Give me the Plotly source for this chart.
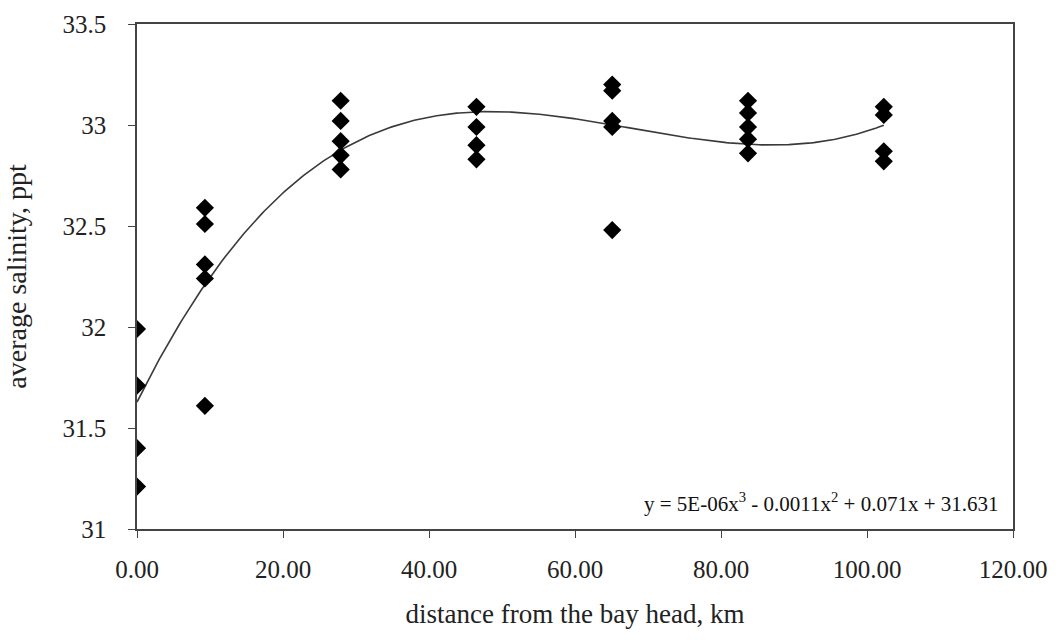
import numpy as np
import plotly.graph_objects as go

# distance from the bay head (km) for each sampling station group
station_km = [0.0, 9.3, 27.9, 46.5, 65.1, 83.7, 102.3]
# average salinity (ppt) observed at each station group
salinity_by_station = [
    [31.99, 31.71, 31.40, 31.21],
    [32.59, 32.51, 32.31, 32.24, 31.61],
    [33.12, 33.02, 32.92, 32.85, 32.78],
    [33.09, 32.99, 32.90, 32.83],
    [33.20, 33.17, 33.02, 32.99, 32.48],
    [33.12, 33.06, 32.99, 32.93, 32.86],
    [33.09, 33.05, 32.87, 32.82],
]
x_ticks = [0, 20, 40, 60, 80, 100, 120]
y_ticks = [31, 31.5, 32, 32.5, 33, 33.5]
equation_text = "y = 5E-06x<sup>3</sup> - 0.0011x<sup>2</sup> + 0.071x + 31.631"

xs, ys = [], []
for km, vals in zip(station_km, salinity_by_station):
    for v in vals:
        xs.append(km)
        ys.append(v)
xs = np.array(xs)
ys = np.array(ys)

# third-order polynomial trendline fitted to the observations
coef = np.polyfit(xs, ys, 3)
xfit = np.linspace(min(station_km), max(station_km), 300)
yfit = np.polyval(coef, xfit)

serif = "'Liberation Serif', 'Times New Roman', Times, serif"

fig = go.Figure()
fig.add_trace(go.Scatter(
    x=xfit, y=yfit, mode="lines",
    line=dict(color="#3a3a3a", width=1.6),
    hoverinfo="skip", showlegend=False,
))
fig.add_trace(go.Scatter(
    x=xs, y=ys, mode="markers",
    marker=dict(symbol="diamond", size=14, color="black"),
    showlegend=False,
))

fig.add_annotation(
    x=1.0, y=0.0, xref="paper", yref="paper",
    xanchor="right", yanchor="bottom", xshift=-12, yshift=11,
    text=equation_text, showarrow=False,
    font=dict(family=serif, size=21, color="#111"),
)

axis_common = dict(
    showgrid=False, zeroline=False, showline=True, mirror=True,
    linecolor="#444", linewidth=1.5,
    ticks="outside", tickcolor="#444", ticklen=7, tickwidth=1.3,
    tickfont=dict(family=serif, size=25, color="#222"),
)

fig.update_xaxes(
    range=[0, 120], tickvals=x_ticks, tickformat=".2f",
    ticklabelstandoff=10,
    title=dict(text="distance from the bay head, km",
               font=dict(family=serif, size=27, color="#222"), standoff=22),
    **axis_common,
)
fig.update_yaxes(
    range=[31, 33.5], tickvals=y_ticks,
    ticklabelstandoff=17,
    title=dict(text="average salinity, ppt",
               font=dict(family=serif, size=28, color="#222"), standoff=28),
    **axis_common,
)

fig.update_layout(
    width=1064, height=642,
    margin=dict(l=137, r=51, t=24, b=113),
    plot_bgcolor="white", paper_bgcolor="white",
)

fig.write_html("out.html")
